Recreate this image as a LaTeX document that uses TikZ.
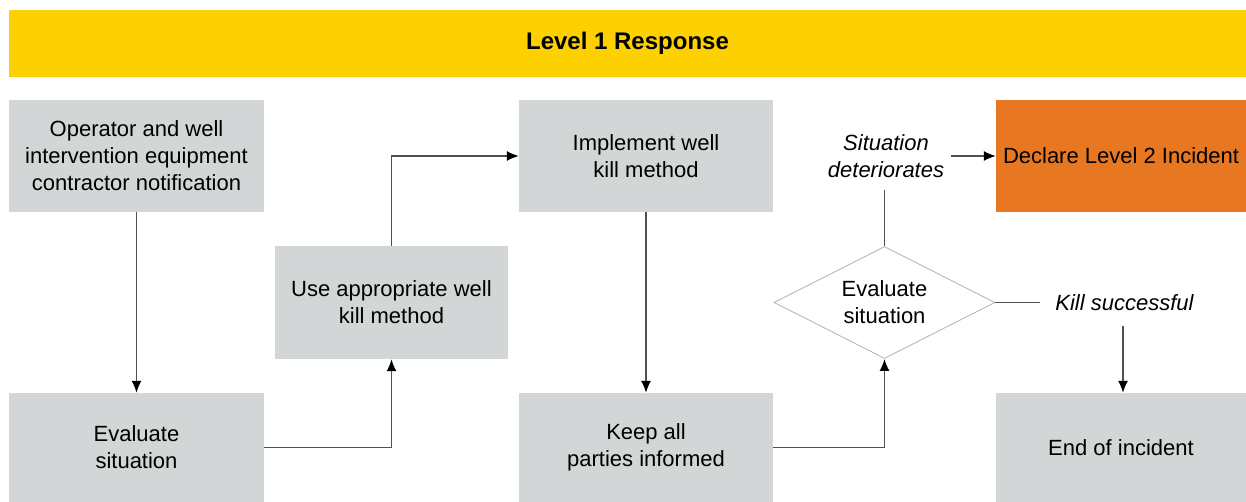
\documentclass[tikz,border=0pt]{standalone}
\usepackage{fontspec}
\setmainfont{Liberation Sans}
\usetikzlibrary{shapes.geometric,arrows.meta}
\definecolor{bannerYellow}{HTML}{FDD000}
\definecolor{boxGray}{HTML}{D3D6D6}
\definecolor{alertOrange}{HTML}{E87722}
\definecolor{lineGray}{HTML}{505050}
\definecolor{edgeGray}{HTML}{B8B8B8}
\begin{document}
\begin{tikzpicture}[x=1pt,y=-1pt,
  every node/.style={font=\fontsize{22}{27}\selectfont, align=center},
  procbox/.style={fill=boxGray, draw=none, inner sep=0pt, minimum width=#1},
  procbox/.default=254pt,
  tall/.style={minimum height=112pt},
  low/.style={minimum height=109pt},
  decision/.style={diamond, aspect=1.97, draw=edgeGray, line width=0.9pt, inner sep=0pt,
    minimum width=221pt, minimum height=112pt},
  tag/.style={font=\fontsize{22}{27}\selectfont\itshape},
  flow/.style={draw=lineGray, line width=1.3pt, -{Latex[length=12pt,width=10pt,color=black]}},
  link/.style={draw=lineGray, line width=1.3pt}
]
\useasboundingbox (0,0) rectangle (1246,502);

% title banner
\node[fill=bannerYellow, minimum width=1237pt, minimum height=67pt, inner sep=0pt,
  font=\fontsize{24}{28}\selectfont\bfseries] (banner) at (627.5,43.5) {Level 1 Response};

% process boxes
\node[procbox=255pt, tall] (notify) at (136.5,156) {Operator and well\\intervention equipment\\contractor notification};
\node[procbox=255pt, low] (eval) at (136.5,447.5) {Evaluate\\situation};
\node[procbox=233pt, minimum height=113pt] (method) at (391.5,302.5) {Use appropriate well\\kill method};
\node[procbox, tall] (implement) at (646,156) {Implement well\\kill method};
\node[procbox, low] (inform) at (646,447.5) {Keep all\\parties informed};
\node[decision] (check) at (884.5,302.5) {Evaluate\\situation};
\node[procbox=250pt, tall, fill=alertOrange] (declare) at (1121,156) {Declare Level 2 Incident};
\node[procbox=250pt, low] (finish) at (1121,447.5) {End of incident};

% outcome labels
\node[tag, inner xsep=7pt, inner ysep=0pt, minimum height=68pt] (worse) at (886,156) {Situation\\deteriorates};
\node[tag, inner xsep=15pt, inner ysep=0pt, minimum height=46pt] (success) at (1124.5,302.5) {Kill successful};

% connectors
\draw[flow] (notify) -- (eval);
\draw[flow] (eval.east) -| (method.south);
\draw[flow] (method.north) |- (implement.west);
\draw[flow] (implement) -- (inform);
\draw[flow] (inform.east) -| (check.south);
\draw[link] (check.north) -- (worse.south -| check.north);
\draw[flow] (worse.east) -- (declare.west);
\draw[link] (check.east) -- (success.west |- check.east);
\draw[flow] (success.south -| 1123,0) -- (finish.north -| 1123,0);
\end{tikzpicture}
\end{document}
